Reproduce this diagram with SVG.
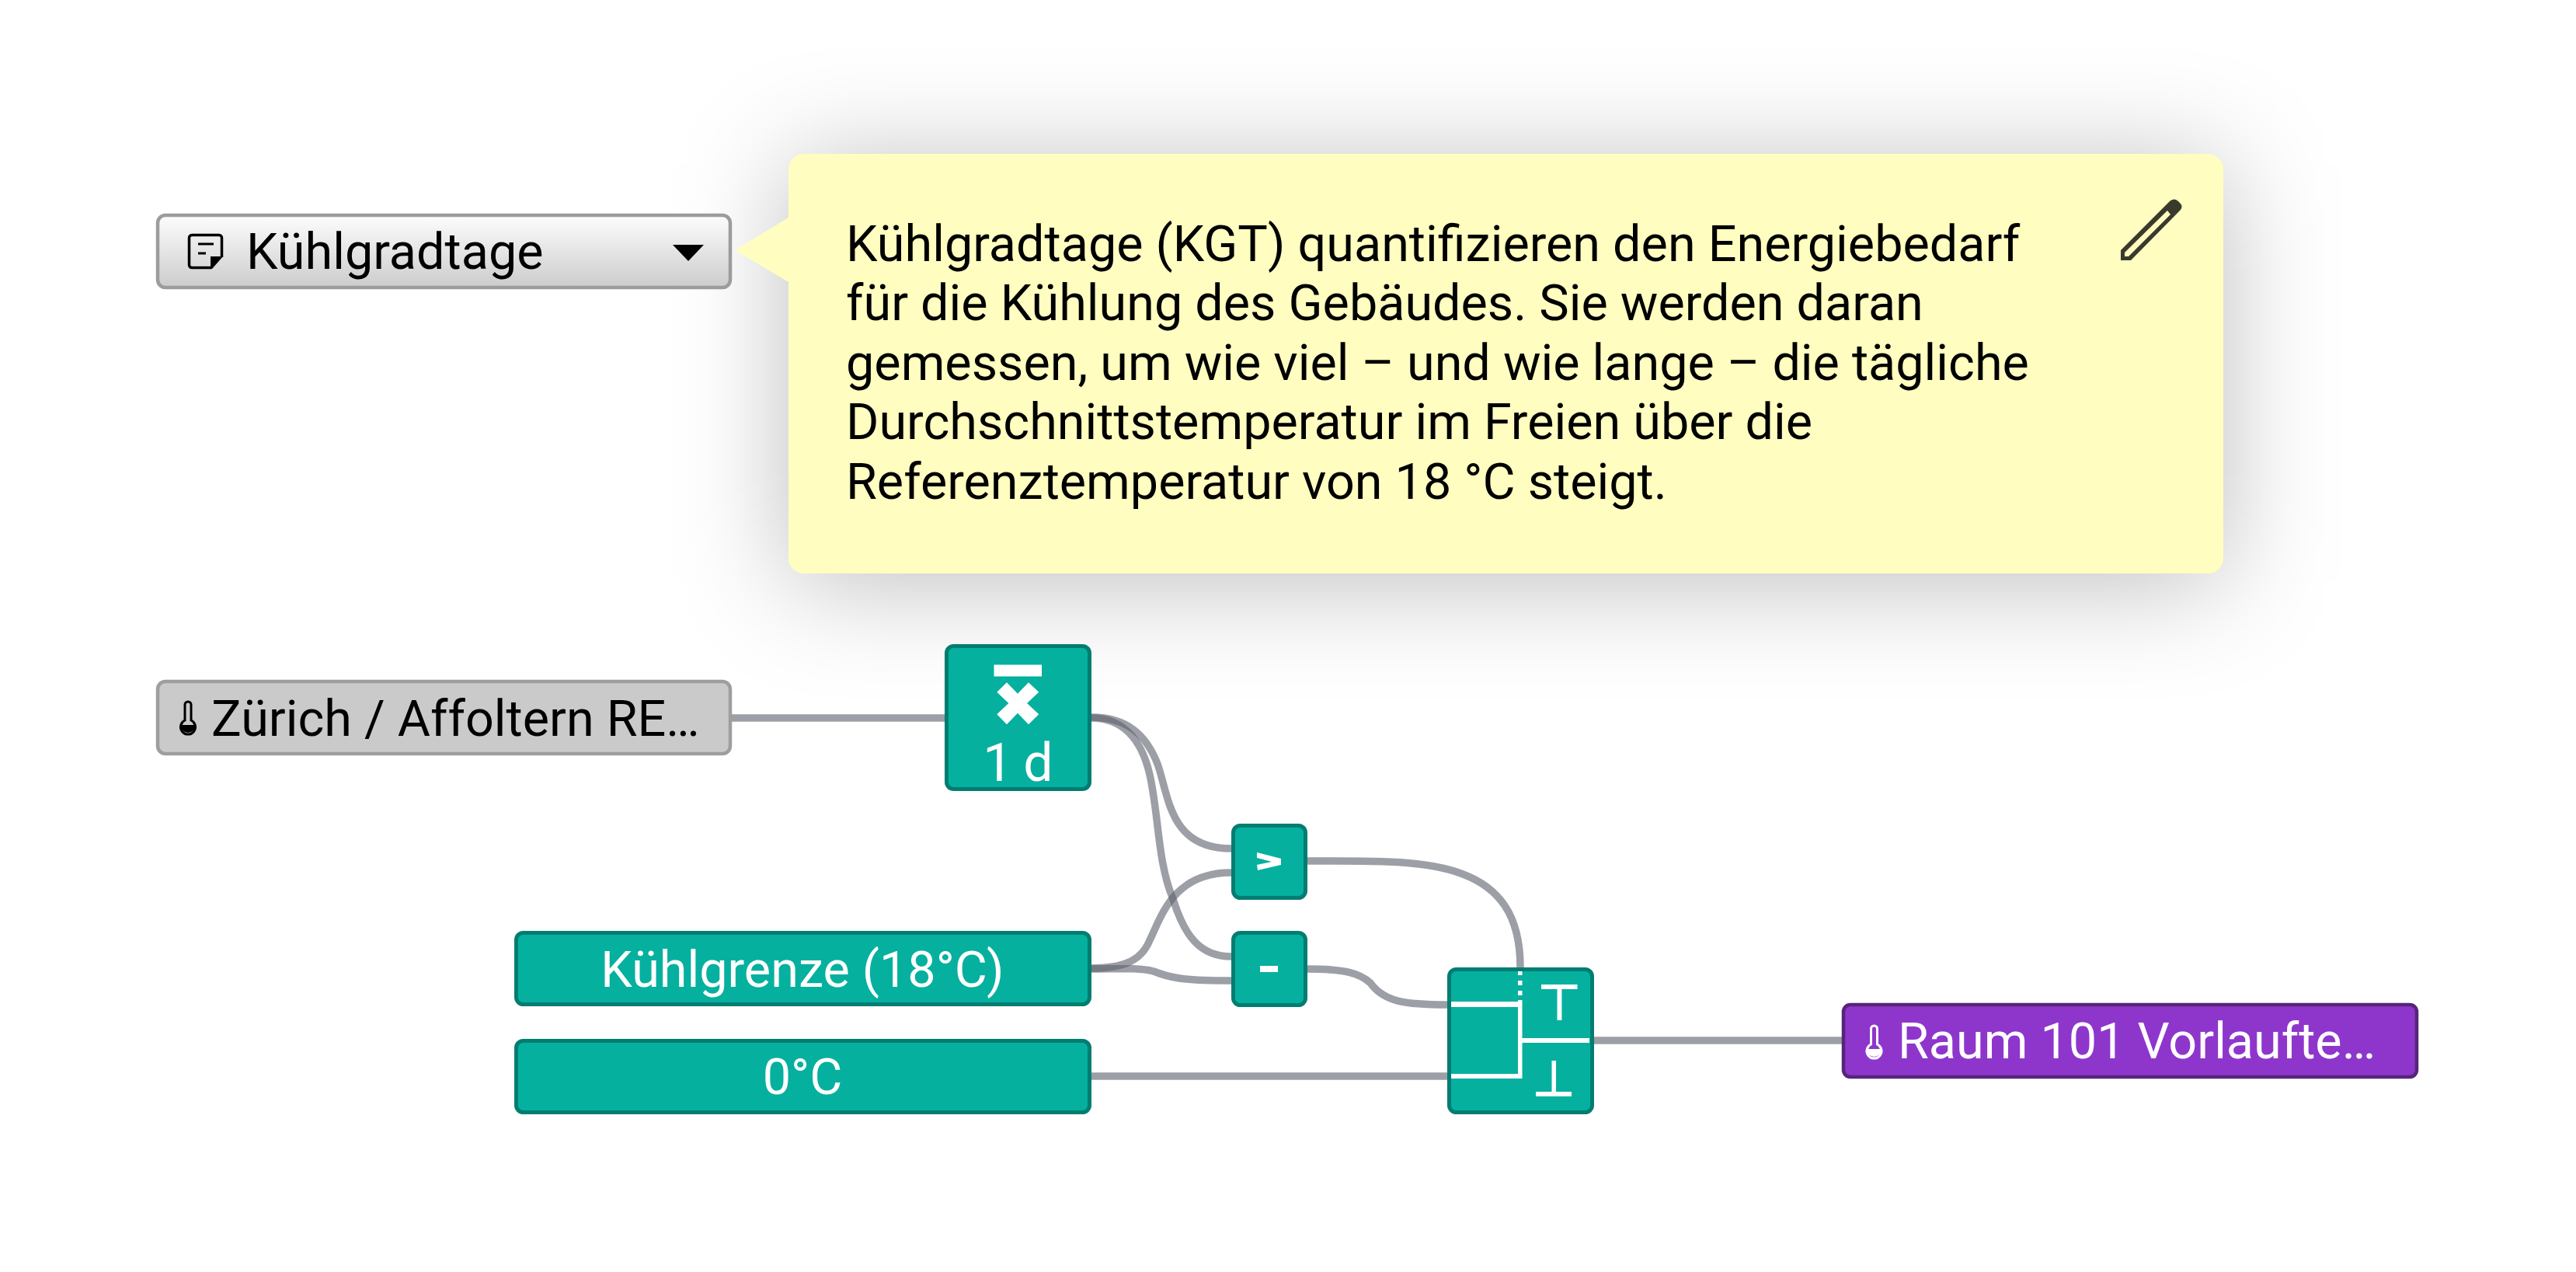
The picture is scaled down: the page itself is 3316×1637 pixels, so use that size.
<svg xmlns="http://www.w3.org/2000/svg" width="3316" height="1637" viewBox="0 0 3316 1637">
<style>
text{font-family:Roboto,"Liberation Sans",sans-serif}
.wire{fill:none;stroke:#5c5f6b;stroke-width:9.500;stroke-opacity:.6}
.teal{fill:#06b09f;stroke:#007d71;stroke-width:5}
.w{fill:#fff}
.lbl{font-size:64.700px;fill:#000}
.lw{font-size:64.700px;fill:#fff}
.tip{font-size:64.700px;fill:#000}
</style>
<defs>
<linearGradient id="btn" x1="0" y1="0" x2="0" y2="1"><stop offset="0" stop-color="#fdfdfd"/><stop offset="1" stop-color="#cccccc"/></linearGradient>
<filter id="sh" x="-30%" y="-60%" width="160%" height="220%"><feGaussianBlur stdDeviation="70"/></filter>
<g id="therm"><path d="M238,927V907a4,4 0 0 1 8,0V927a9.500,9.500 0 1 1-8,0Z" fill="none" stroke="currentColor" stroke-width="3"/><path d="M232,933H252A10,10 0 0 1 232,933Z" fill="currentColor"/></g>
</defs>
<rect x="1015" y="210" width="1847" height="540" rx="20" fill="#000" fill-opacity=".26" filter="url(#sh)"/>
<g id="connectors">
<path class="wire" d="M941,924H1217"/>
<path class="wire" d="M1405,923C1450,923 1475,945 1490,983C1505,1025 1505,1092 1585,1092"/>
<path class="wire" d="M1405,924C1440,924 1468,945 1480,997C1492,1050 1490,1110 1510,1157C1525,1205 1545,1231 1585,1231"/>
<path class="wire" d="M1404,1246C1440,1246 1468,1240 1480,1210C1495,1180 1510,1123 1585,1123"/>
<path class="wire" d="M1404,1247C1440,1247 1465,1245 1485,1250C1505,1258 1520,1262 1585,1262"/>
<path class="wire" d="M1682,1108C1830,1108 1957,1100 1957,1245"/>
<path class="wire" d="M1682,1247C1730,1247 1750,1252 1764,1265C1782,1290 1810,1293 1863,1293"/>
<path class="wire" d="M1404,1385H1863"/>
<path class="wire" d="M2051,1339H2371"/>
</g>
<g id="note-select">
<rect x="203" y="277" width="737" height="93" rx="10" fill="url(#btn)" stroke="#9c9c9c" stroke-width="4.500"/>
<path d="M272,344.500H247a3.500,3.500 0 0 1-3.500-3.500V306a3.500,3.500 0 0 1 3.500-3.500H282a3.500,3.500 0 0 1 3.500,3.500V331" fill="none" stroke="#000" stroke-width="3.500"/>
<path d="M287,330L273,346H271V330Z" fill="#000"/>
<path d="M255,314H275M255,326H265" stroke="#000" stroke-width="3"/>
<text class="lbl" x="317" y="346">Kühlgradtage</text>
<path d="M866,315H906L886,336Z" fill="#000"/>
</g>
<g id="note-tooltip">
<path d="M1035,198H2842a20,20 0 0 1 20,20V718a20,20 0 0 1-20,20H1035a20,20 0 0 1-20-20V363L946,322L1015,280V218a20,20 0 0 1 20-20Z" fill="#fffec0"/>
<text class="tip"><tspan x="1089" y="336">Kühlgradtage (KGT) quantifizieren den Energiebedarf</tspan><tspan x="1089" y="412">für die Kühlung des Gebäudes. Sie werden daran</tspan><tspan x="1089" y="489">gemessen, um wie viel – und wie lange – die tägliche</tspan><tspan x="1089" y="565">Durchschnittstemperatur im Freien über die</tspan><tspan x="1089" y="642">Referenztemperatur von 18 °C steigt.</tspan></text>
<path fill-rule="evenodd" fill="#3a3a2c" d="M2730,335V322L2793,259Q2799,254 2804,259L2806,261Q2811,266 2806,271L2743,335ZM2735,325V330H2740L2794,276L2790,271Z"/>
</g>
<g id="source-zurich">
<rect x="203" y="877" width="737" height="93" rx="10" fill="#cacaca" stroke="#9e9e9e" stroke-width="4.500"/>
<use href="#therm" color="#000"/>
<text class="lbl" x="272" y="947">Zürich / Affoltern RE…</text>
</g>
<g id="mean-block">
<rect class="teal" x="1218.500" y="831.500" width="184" height="184" rx="9"/>
<rect class="w" x="1279.500" y="855.500" width="61.500" height="15"/>
<path class="w" d="M1296,878.300L1310,892.700L1324,878.300L1337.300,890.700L1322,905L1337.300,919.300L1324,932.300L1310,917.700L1296,932.300L1283.300,919.300L1298.300,905L1283.300,890.700Z"/>
<text x="1310.500" y="1005" text-anchor="middle" font-size="68" word-spacing="-3" fill="#fff">1 d</text>
</g>
<g id="compare-block">
<rect class="teal" x="1587.500" y="1062.500" width="93" height="93" rx="9"/>
<path class="w" d="M1618,1097L1649,1105V1113L1619,1120L1618,1113L1637,1109L1618,1104Z"/>
</g>
<g id="minus-block">
<rect class="teal" x="1587.500" y="1200.500" width="93" height="93" rx="9"/>
<rect class="w" x="1622" y="1243" width="23" height="8"/>
</g>
<g id="limit-const">
<rect class="teal" x="664.500" y="1200.500" width="738" height="92" rx="9"/>
<text class="lw" x="1033" y="1270" text-anchor="middle">Kühlgrenze (18°C)</text>
</g>
<g id="zero-const">
<rect class="teal" x="664.500" y="1339.500" width="738" height="92" rx="9"/>
<text class="lw" x="1033" y="1408" text-anchor="middle">0°C</text>
</g>
<g id="switch-block">
<rect class="teal" x="1865.500" y="1247.500" width="184" height="184" rx="9"/>
<path class="w" d="M1954,1250h5.500v5h-5.500zM1954,1262h5.500v6h-5.500zM1954,1275h5.500v6h-5.500z"/>
<path class="w" d="M1954,1287h5.500v49h86.500v6h-86.500v46H1868v-6h86V1296H1868v-7h86z"/>
<path class="w" d="M1984,1267h46.500v6h-20.100v40h-5.900v-40H1984zM1997.500,1365h5.500v40h20v6h-46v-6h20.500z"/>
</g>
<g id="target-raum">
<rect x="2373" y="1293" width="738" height="93" rx="9" fill="#8e36cc" stroke="#56257a" stroke-width="4.500"/>
<use href="#therm" x="2170.500" y="417" color="#fff"/>
<text class="lw" x="2443" y="1362">Raum 101 Vorlaufte…</text>
</g>
</svg>
